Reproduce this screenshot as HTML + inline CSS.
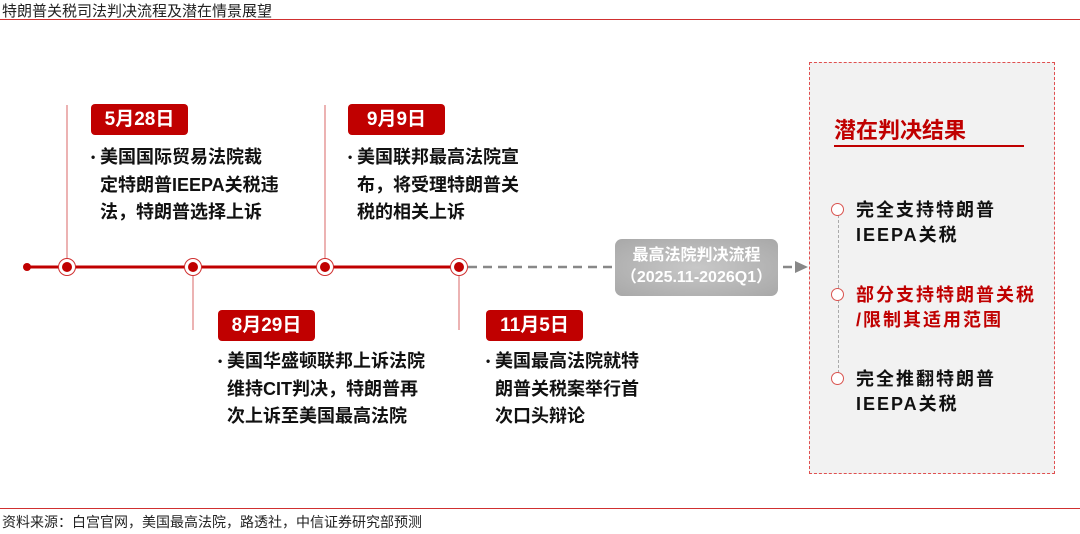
<!DOCTYPE html>
<html><head><meta charset="utf-8"><style>
body{margin:0;width:1080px;height:534px;background:#fff;position:relative;overflow:hidden;font-family:"Liberation Sans","Noto Sans CJK SC",sans-serif}
.a{position:absolute}
.date{position:absolute;width:97px;height:31px;background:#c00000;border-radius:4px;color:#fff;font-weight:bold;font-size:19px;text-align:center;line-height:31px}
.txt{position:absolute;font-size:18px;font-weight:bold;line-height:27.5px;color:#111;width:240px;white-space:nowrap}
.txt b{position:absolute;left:-9px;top:0;font-size:12px}
.it{position:absolute;left:856px;font-size:18px;letter-spacing:2px;font-weight:bold;line-height:25px;color:#111;white-space:nowrap}
.c{position:absolute;left:831px;width:11px;height:11px;border:1.5px solid #d9534f;border-radius:50%;background:#fff}
.n{position:absolute;width:16px;height:16px;border:1.5px solid #d03030;border-radius:50%;background:#fff;top:258px}
.n:after{content:"";position:absolute;left:3px;top:3px;width:10px;height:10px;border-radius:50%;background:#c00000}
</style></head><body>
<div class="a" style="left:2px;top:0;font-size:15px;color:#222">特朗普关税司法判决流程及潜在情景展望</div>
<div class="a" style="left:0;top:19px;width:1080px;height:1px;background:#d03030"></div>
<svg class="a" style="left:0;top:0" width="1080" height="534">
<line x1="67" y1="105" x2="67" y2="267" stroke="#e08080" stroke-width="1.2"/>
<line x1="325" y1="105" x2="325" y2="267" stroke="#e08080" stroke-width="1.2"/>
<line x1="193" y1="267" x2="193" y2="330" stroke="#e08080" stroke-width="1.2"/>
<line x1="459" y1="267" x2="459" y2="330" stroke="#e08080" stroke-width="1.2"/>
<line x1="27" y1="267" x2="459" y2="267" stroke="#c00000" stroke-width="3"/>
<circle cx="27" cy="267" r="4" fill="#c00000"/>
<line x1="468" y1="267" x2="795" y2="267" stroke="#888" stroke-width="2.5" stroke-dasharray="9,6"/>
<polygon points="795,261 808,267 795,273" fill="#888"/>
</svg>
<div class="n" style="left:58px"></div><div class="n" style="left:184px"></div><div class="n" style="left:316px"></div><div class="n" style="left:450px"></div>
<div class="date" style="left:91px;top:104px">5月28日</div>
<div class="date" style="left:348px;top:104px">9月9日</div>
<div class="date" style="left:218px;top:310px">8月29日</div>
<div class="date" style="left:486px;top:310px">11月5日</div>
<div class="txt" style="left:100px;top:144px"><b>•</b>美国国际贸易法院裁<br>定特朗普IEEPA关税违<br>法，特朗普选择上诉</div>
<div class="txt" style="left:357px;top:144px"><b>•</b>美国联邦最高法院宣<br>布，将受理特朗普关<br>税的相关上诉</div>
<div class="txt" style="left:227px;top:348px"><b>•</b>美国华盛顿联邦上诉法院<br>维持CIT判决，特朗普再<br>次上诉至美国最高法院</div>
<div class="txt" style="left:495px;top:348px"><b>•</b>美国最高法院就特<br>朗普关税案举行首<br>次口头辩论</div>
<div class="a" style="left:615px;top:239px;width:163px;height:57px;border-radius:7px;background:radial-gradient(ellipse at center,#c8c8c8,#a8a8a8);color:#fff;font-size:16px;font-weight:bold;line-height:22px;text-align:center;padding-top:6px;box-sizing:border-box">最高法院判决流程<br>（2025.11-2026Q1）</div>
<div class="a" style="left:809px;top:62px;width:246px;height:412px;background:#f2f2f2;border:1.5px dashed #e05050;box-sizing:border-box"></div>
<div class="a" style="left:834px;top:113px;font-size:22px;font-weight:bold;color:#c00000">潜在判决结果</div>
<div class="a" style="left:834px;top:145px;width:190px;height:2px;background:#c00000"></div>
<div class="a" style="left:838px;top:215px;height:163px;border-left:1px dashed #aaa"></div>
<div class="c" style="top:203px"></div><div class="c" style="top:288px"></div><div class="c" style="top:372px"></div>
<div class="it" style="top:198px">完全支持特朗普<br>IEEPA关税</div>
<div class="it" style="top:283px;color:#c00000">部分支持特朗普关税<br>/限制其适用范围</div>
<div class="it" style="top:367px">完全推翻特朗普<br>IEEPA关税</div>
<div class="a" style="left:0;top:508px;width:1080px;height:1px;background:#d03030"></div>
<div class="a" style="left:2px;top:512px;font-size:14px;color:#222">资料来源：白宫官网，美国最高法院，路透社，中信证券研究部预测</div>
</body></html>
